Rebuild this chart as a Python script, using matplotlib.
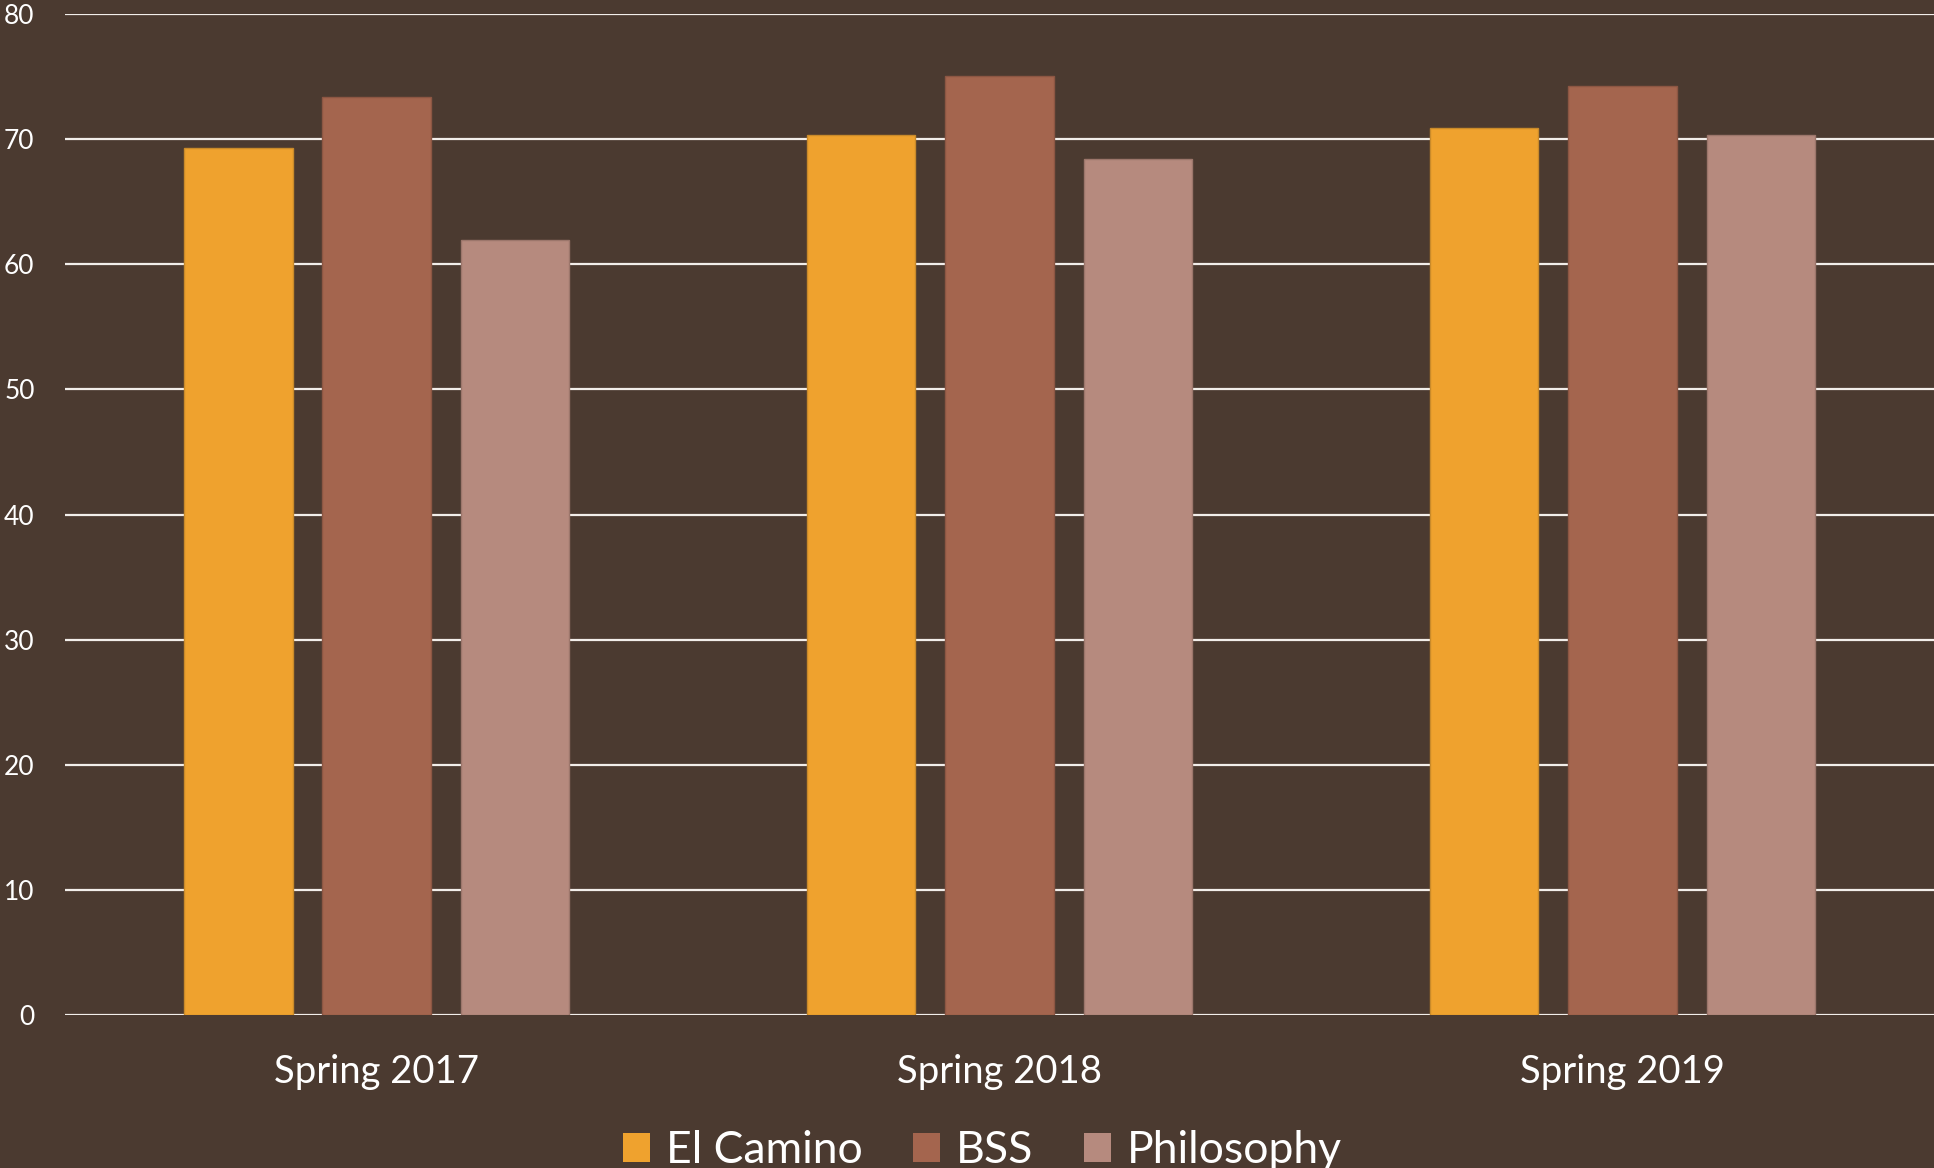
import numpy as np
import matplotlib.pyplot as plt

plt.rcParams['font.family'] = ['Lato', 'DejaVu Sans']

#-------data------
terms = ['Spring 2017', 'Spring 2018', 'Spring 2019']
series = ['El Camino', 'BSS', 'Philosophy']
el_camino = [69.3, 70.3, 70.9]
bss = [73.3, 75.0, 74.2]
philosophy = [61.9, 68.4, 70.3]
yticks = [0, 10, 20, 30, 40, 50, 60, 70, 80]

colors = ['#EFA22E', '#A4654E', '#B68A7E']
edges = ['#C98A2A', '#8C5643', '#9C766B']
bg = '#4B3A30'

#-------figure------
fig = plt.figure(figsize=(19.34, 11.68), dpi=100, facecolor=bg)
ax = fig.add_axes([0.0337, 0.1306, 0.9663, 0.8578], facecolor=bg)

x = np.arange(len(terms))
width = 0.174
step = 0.222
for i, (vals, name) in enumerate(zip([el_camino, bss, philosophy], series)):
    ax.bar(x + (i - 1) * step, vals, width, color=colors[i],
           edgecolor=edges[i], linewidth=1, label=name, zorder=3)

#-------axis------
ax.set_xlim(-0.5, 2.5)
ax.set_ylim(0, 80)
ax.set_yticks(yticks)
ax.set_yticklabels([str(v) for v in yticks])
ax.set_xticks(x)
ax.set_xticklabels(terms)
ax.grid(axis='y', color='#F2EEEA', linewidth=1.6, zorder=1)
ax.set_axisbelow(True)
for s in ax.spines.values():
    s.set_visible(False)
ax.tick_params(axis='y', length=0, pad=22, labelsize=19, labelcolor='white')
ax.tick_params(axis='x', length=0, pad=28, labelsize=27.5, labelcolor='white')

#-----legend-----
leg = fig.legend(loc='lower center', bbox_to_anchor=(0.508, -0.037), ncol=3,
                 frameon=False, fontsize=32, labelcolor='white',
                 handlelength=0.6, handleheight=0.6, handletextpad=0.35,
                 columnspacing=1.15)
for h in leg.legend_handles:
    h.set_edgecolor('none')

fig.savefig('out.png', dpi=100, facecolor=bg)
